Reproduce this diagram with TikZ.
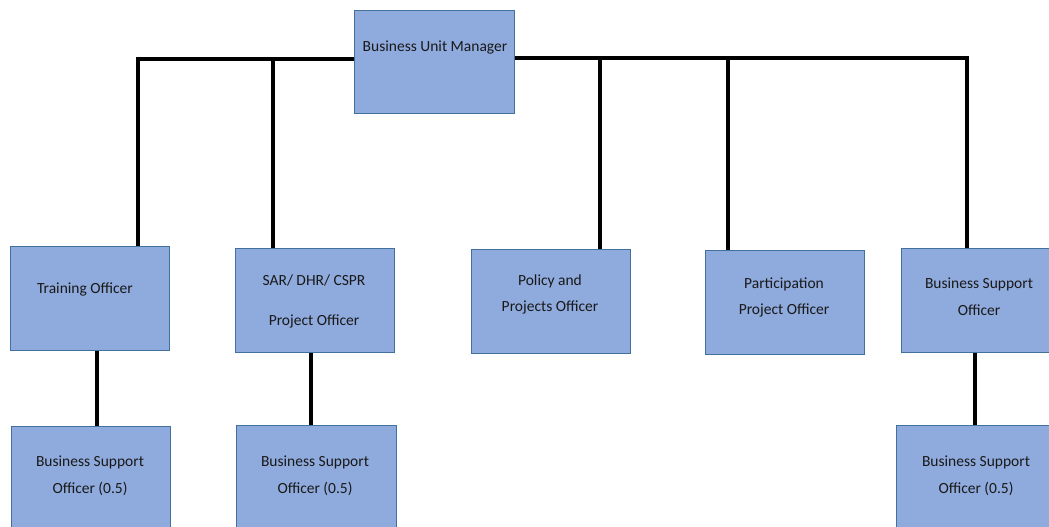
\documentclass[tikz,border=0pt]{standalone}
\usepackage{fontspec}
\setmainfont{Carlito}
\begin{document}
\begin{tikzpicture}[x=1pt,y=-1pt,
  box/.style={draw={rgb,255:red,65;green,113;blue,156}, fill={rgb,255:red,143;green,170;blue,220}, line width=1.2pt, rectangle, inner sep=0pt, anchor=north west, minimum width=159pt, minimum height=104pt},
  txt/.style={font=\fontsize{15.5}{18}\selectfont, text={rgb,255:red,25;green,25;blue,25}, inner sep=0pt},
  conn/.style={line width=4pt, black}]
\useasboundingbox (0,0) rectangle (1049,527);
\clip (0,0) rectangle (1049,527);
% boxes
\node[box, minimum width=160pt, minimum height=103pt] (bum) at (354,10) {};
\node[box] (tr)  at (10,246) {};
\node[box] (sar) at (235,248) {};
\node[box] (pol) at (471,249) {};
\node[box] (par) at (705,250) {};
\node[box, minimum width=170pt] (bso) at (901,248) {};
\node[box, minimum height=120pt] (b1) at (11,426) {};
\node[box, minimum height=120pt, minimum width=160pt] (b2) at (236,425) {};
\node[box, minimum height=120pt, minimum width=170pt] (b3) at (896,425) {};
% texts
\node[txt] (tbum) at (435,48) {Business Unit Manager};
\node[txt] (ttr) at (85,289) {Training Officer};
\node[txt] (tsar1) at (314,280) {SAR/ DHR/ CSPR};
\node[txt] (tsar2) at (314,321) {Project Officer};
\node[txt] (tpol1) at (550,281) {Policy and};
\node[txt] (tpol2) at (550,307) {Projects Officer};
\node[txt] (tpar1) at (784,284) {Participation};
\node[txt] (tpar2) at (784,310) {Project Officer};
\node[txt] (tbso1) at (979,284) {Business Support};
\node[txt] (tbso2) at (979,310) {Officer};
\node[txt] (tb11) at (90,462) {Business Support};
\node[txt] (tb12) at (90,489) {Officer (0.5)};
\node[txt] (tb21) at (315,462) {Business Support};
\node[txt] (tb22) at (315,489) {Officer (0.5)};
\node[txt] (tb31) at (976,462) {Business Support};
\node[txt] (tb32) at (976,489) {Officer (0.5)};
% junctions
\coordinate (j1) at (138,59);
\coordinate (j2) at (273,59);
\coordinate (j3) at (600,58);
\coordinate (j4) at (728,58);
\coordinate (j5) at (967,58);
% connectors
\draw[conn] (j1 |- tr.north) -- (j1) -- (bum.west |- j1);
\draw[conn] (j2 |- sar.north) -- (j2);
\draw[conn] (bum.east |- j3) -- (j5) -- (j5 |- bso.north);
\draw[conn] (j3 |- pol.north) -- (j3);
\draw[conn] (j4 |- par.north) -- (j4);
\coordinate (k1) at (97,0);
\coordinate (k2) at (311,0);
\coordinate (k3) at (975,0);
\draw[conn] (k1 |- tr.south) -- (k1 |- b1.north);
\draw[conn] (k2 |- sar.south) -- (k2 |- b2.north);
\draw[conn] (k3 |- bso.south) -- (k3 |- b3.north);
\end{tikzpicture}
\end{document}
